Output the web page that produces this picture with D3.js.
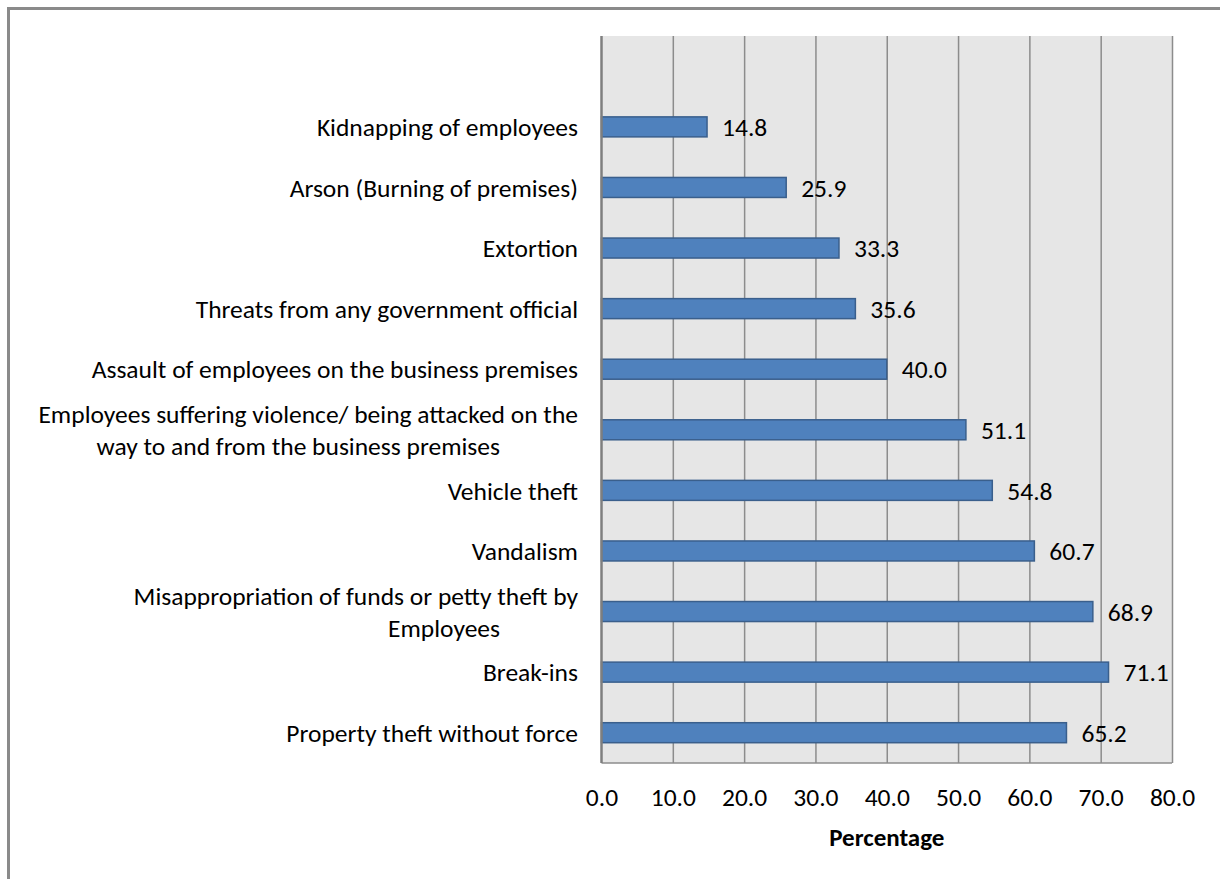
<!DOCTYPE html>
<html>
<head>
<meta charset="utf-8">
<script src="https://cdn.jsdelivr.net/npm/d3@7"></script>
<style>
  html, body { margin: 0; padding: 0; background: #fff; }
  svg { display: block; }
  text { font-family: Carlito, Lato, "Open Sans", sans-serif; fill: #000; }
</style>
</head>
<body>
<svg id="chart" width="1220" height="879"></svg>
<script>
// Crime types (top to bottom); multi-line labels are split into lines
const categories = [
  ["Kidnapping of employees"],
  ["Arson (Burning of premises)"],
  ["Extortion"],
  ["Threats from any government official"],
  ["Assault of employees on the business premises"],
  ["Employees suffering violence/ being attacked on the", "way to and from the business premises"],
  ["Vehicle theft"],
  ["Vandalism"],
  ["Misappropriation of funds or petty theft by", "Employees"],
  ["Break-ins"],
  ["Property theft without force"]
];
const values = [14.8, 25.9, 33.3, 35.6, 40.0, 51.1, 54.8, 60.7, 68.9, 71.1, 65.2];
const tickValues = [0, 10, 20, 30, 40, 50, 60, 70, 80];
const axisTitle = "Percentage";

const svg = d3.select("#chart");
const FONT = 25.5;

// Outer frame
svg.append("path")
  .attr("d", "M8.5,1300 V8.5 H1300")
  .attr("fill", "none")
  .attr("stroke", "#8a8a8a")
  .attr("stroke-width", 3);

const plot = { left: 601.5, right: 1172, top: 36, bottom: 763 };

const x = d3.scaleLinear().domain([0, 80]).range([plot.left, plot.right]);
const keys = ["__blank__"].concat(categories.map((c, i) => "c" + i));
const y = d3.scaleBand().domain(keys)
  .range([plot.top, plot.bottom])
  .paddingInner(0.67).paddingOuter(0.335);

// Plot background
svg.append("rect")
  .attr("x", plot.left).attr("y", plot.top)
  .attr("width", plot.right - plot.left).attr("height", plot.bottom - plot.top)
  .attr("fill", "#e6e6e6");

// Vertical gridlines
svg.append("g")
  .attr("transform", `translate(0,${plot.bottom})`)
  .call(d3.axisBottom(x).tickValues(tickValues.slice(1)).tickSize(-(plot.bottom - plot.top)).tickFormat(""))
  .call(g => g.select(".domain").remove())
  .call(g => g.selectAll("line").attr("stroke", "#8c8c8c").attr("stroke-width", 1.5));

// Bottom border of plot area
svg.append("line")
  .attr("x1", plot.left).attr("x2", plot.right)
  .attr("y1", plot.bottom).attr("y2", plot.bottom)
  .attr("stroke", "#8c8c8c").attr("stroke-width", 1.5);

// Bars
const bh = y.bandwidth();
svg.append("g").selectAll("rect")
  .data(values)
  .join("rect")
  .attr("x", x(0))
  .attr("y", (d, i) => y("c" + i))
  .attr("width", d => x(d) - x(0))
  .attr("height", bh)
  .attr("fill", "#4f81bd")
  .attr("stroke", "#3a5f8c")
  .attr("stroke-width", 1.5);

// Category axis line
svg.append("line")
  .attr("x1", plot.left).attr("x2", plot.left)
  .attr("y1", plot.top).attr("y2", plot.bottom)
  .attr("stroke", "#7f7f7f").attr("stroke-width", 2.5);

// Value labels
svg.append("g").selectAll("text")
  .data(values)
  .join("text")
  .attr("x", d => x(d) + 15)
  .attr("y", (d, i) => y("c" + i) + bh / 2)
  .attr("dy", "0.36em")
  .attr("font-size", FONT)
  .text(d => d3.format(".1f")(d));

// Category labels: first line ends at the label edge, wrapped lines sit a little further in
const lineH = 32;
const labelRight = 578;
const wrapRight = 500;
const lg = svg.append("g").attr("font-size", FONT);
categories.forEach((lines, i) => {
  const top = y("c" + i) + bh / 2 - (lines.length - 1) * lineH / 2;
  lines.forEach((ln, k) => {
    lg.append("text")
      .attr("x", k === 0 ? labelRight : wrapRight)
      .attr("y", top + k * lineH)
      .attr("dy", "0.36em")
      .attr("text-anchor", "end")
      .text(ln);
  });
});

// Value axis tick labels
svg.append("g")
  .attr("transform", `translate(0,${plot.bottom})`)
  .call(d3.axisBottom(x).tickValues(tickValues).tickSize(0).tickPadding(25).tickFormat(d3.format(".1f")))
  .call(g => g.select(".domain").remove())
  .call(g => g.selectAll("text").attr("font-size", FONT).attr("font-family", "Carlito, Lato, 'Open Sans', sans-serif").attr("fill", "#000"));

// Axis title
svg.append("text")
  .attr("x", (plot.left + plot.right) / 2)
  .attr("y", 837)
  .attr("dy", "0.36em")
  .attr("text-anchor", "middle")
  .attr("font-size", 25)
  .attr("font-weight", "bold")
  .text(axisTitle);
</script>
</body>
</html>
